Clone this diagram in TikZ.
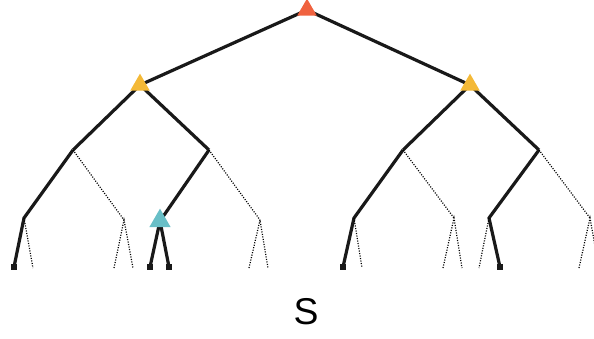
\documentclass[tikz,border=0pt]{standalone}
\usepackage{fontspec}
\setmainfont{Liberation Sans}
\usepackage{tikz}
\usetikzlibrary{shapes.geometric}

\definecolor{rootcol}{HTML}{F0623F}
\definecolor{midcol}{HTML}{F4B937}
\definecolor{lowcol}{HTML}{68BFC7}

\begin{document}
\begin{tikzpicture}[x=0.75pt, y=-0.75pt,
        solidedge/.style={line width=2.4pt, draw=black!90},
        dotedge/.style={line width=0.9pt, dash pattern=on 0.8pt off 1.1pt},
        tri/.style={regular polygon, regular polygon sides=3, fill=#1, inner sep=0pt, minimum size=17pt},
        leafsq/.style={fill=black!90, inner sep=0pt, minimum size=4.5pt}]
        \useasboundingbox (0,0) rectangle (594,339);
        % tree points
        \coordinate (r) at (307,10);
        \coordinate (a) at (140,85); \coordinate (b) at (470,85);
        \coordinate (aa) at (73,150); \coordinate (ab) at (209,150);
        \coordinate (ba) at (403,150); \coordinate (bb) at (539,150);
        \coordinate (aaa) at (24,218); \coordinate (aab) at (124,220);
        \coordinate (aba) at (160,221); \coordinate (abb) at (260,220);
        \coordinate (baa) at (354,218); \coordinate (bab) at (454,218);
        \coordinate (bba) at (489,218); \coordinate (bbb) at (590,218);
        % leaves
        \node[leafsq] (aaa1) at (14,267) {}; \coordinate (aaa2) at (33,268);
        \coordinate (aab1) at (114,268); \coordinate (aab2) at (133,268);
        \node[leafsq] (aba1) at (150,267) {}; \node[leafsq] (aba2) at (169,267) {};
        \coordinate (abb1) at (249,268); \coordinate (abb2) at (268,268);
        \node[leafsq] (baa1) at (343,267) {}; \coordinate (baa2) at (362,268);
        \coordinate (bab1) at (443,268); \coordinate (bab2) at (462,268);
        \coordinate (bba1) at (479,268); \node[leafsq] (bba2) at (500,267) {};
        \coordinate (bbb1) at (579,268); \coordinate (bbb2) at (599,268);
        % played path
        \draw[solidedge] (a) -- (r) -- (b);
        \draw[solidedge] (aa) -- (a) -- (ab); \draw[solidedge] (ba) -- (b) -- (bb);
        \draw[solidedge] (aaa1.center) -- (aaa) -- (aa); \draw[solidedge] (ab) -- (aba);
        \draw[solidedge] (aba1.center) -- (aba) -- (aba2.center);
        \draw[solidedge] (baa1.center) -- (baa) -- (ba); \draw[solidedge] (bb) -- (bba) -- (bba2.center);
        % other branches
        \draw[dotedge] (aa) -- (aab); \draw[dotedge] (ab) -- (abb);
        \draw[dotedge] (ba) -- (bab); \draw[dotedge] (bb) -- (bbb);
        \draw[dotedge] (aaa) -- (aaa2);
        \draw[dotedge] (aab1) -- (aab) -- (aab2);
        \draw[dotedge] (abb1) -- (abb) -- (abb2);
        \draw[dotedge] (baa) -- (baa2);
        \draw[dotedge] (bab1) -- (bab) -- (bab2);
        \draw[dotedge] (bba) -- (bba1);
        \draw[dotedge] (bbb1) -- (bbb) -- (bbb2);
        % markers
        \node[tri=rootcol] (rt) at (r) {};
        \node[tri=midcol] (at) at (a) {}; \node[tri=midcol] (bt) at (b) {};
        \node[tri=lowcol, minimum size=18.5pt] (abat) at (aba) {};
        \node[inner sep=0pt, font=\fontsize{28}{30}\selectfont] (s) at (306,311.5) {S};
    \end{tikzpicture}
\end{document}
